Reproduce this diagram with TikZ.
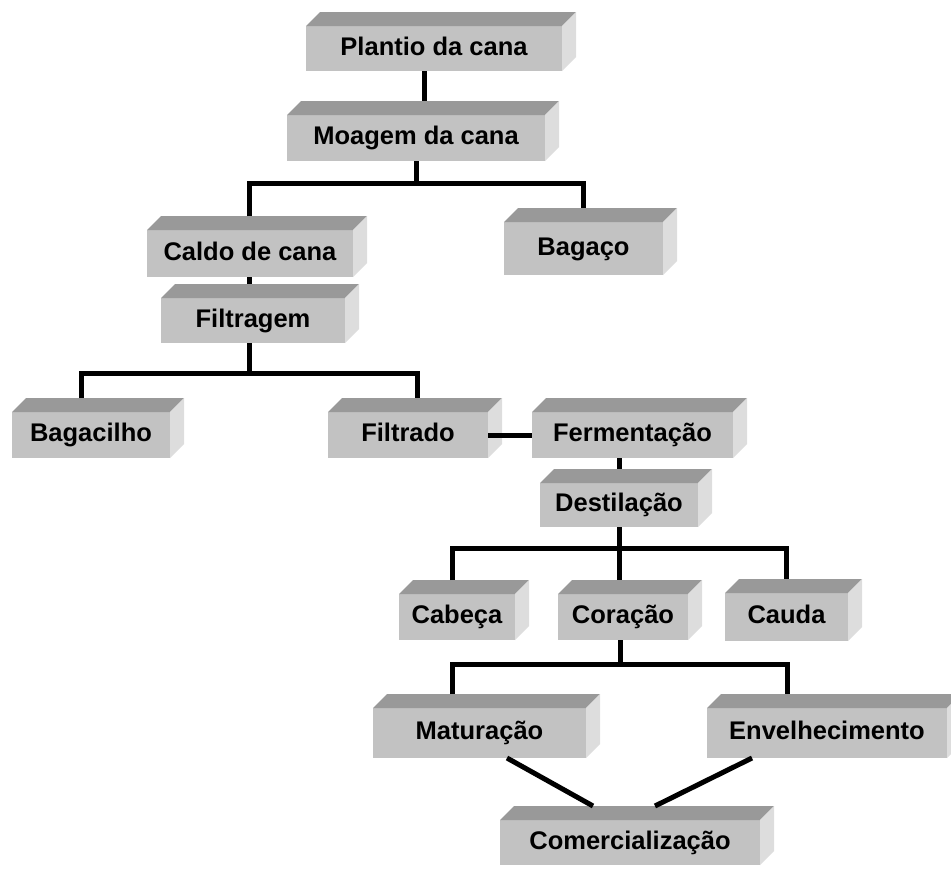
\documentclass[tikz,border=0pt]{standalone}
\usepackage{fontspec}
\setmainfont{Liberation Sans}
\usetikzlibrary{calc}
\definecolor{frontc}{HTML}{C2C2C2}
\definecolor{topc}{HTML}{999999}
\definecolor{sidec}{HTML}{DDDDDD}
\tikzset{
  blk/.style={fill=frontc, inner sep=0pt, outer sep=0pt, text height=18.3pt, text depth=5.3pt,
    font=\fontsize{25.5}{30}\selectfont\bfseries, text=black},
  conn/.style={line width=5pt, black},
}
\newcommand{\cubefaces}[1]{%
  \fill[topc] (#1.north west) -- ([shift={(14pt,14pt)}]#1.north west) -- ([shift={(14pt,14pt)}]#1.north east) -- (#1.north east) -- cycle;
  \fill[sidec] (#1.north east) -- ([shift={(14pt,14pt)}]#1.north east) -- ([shift={(14pt,14pt)}]#1.south east) -- (#1.south east) -- cycle;
  \coordinate (#1-top) at ([yshift=14pt]#1.north);
}
\newcommand{\stepbox}[6]{% name, cx, cy, w, h, text
  \node[blk, minimum width=#4pt, minimum height=#5pt] (#1) at (#2,#3) {#6};
  \cubefaces{#1}
}
\begin{document}
\begin{tikzpicture}[x=1pt,y=-1pt]
\useasboundingbox (0,0) rectangle (951,870);
\stepbox{plantio}{434}{48.5}{256}{45}{Plantio da cana}
\stepbox{moagem}{416}{138}{258}{46}{Moagem da cana}
\stepbox{caldo}{250}{253.5}{206}{47}{Caldo de cana}
\stepbox{bagaco}{583.5}{248.5}{159}{53}{Bagaço}
\stepbox{filtragem}{253}{320.5}{184}{45}{Filtragem}
\stepbox{bagacilho}{91}{435}{158}{46}{Bagacilho}
\stepbox{filtrado}{408}{435}{160}{46}{Filtrado}
\stepbox{ferm}{632.5}{435}{201}{46}{Fermentação}
\stepbox{destilacao}{619}{505}{158}{44}{Destilação}
\stepbox{cabeca}{457}{617}{116}{46}{Cabeça}
\stepbox{coracao}{623}{617}{130}{46}{Coração}
\stepbox{cauda}{786.5}{617}{123}{48}{Cauda}
\stepbox{maturacao}{479.5}{733}{213}{50}{Maturação}
\stepbox{envelh}{827}{733}{240}{50}{Envelhecimento}
\stepbox{comerc}{630}{842.5}{260}{45}{Comercialização}

% connectors
\draw[conn] ([xshift=-10pt]plantio.south) -- ([xshift=-10pt]plantio.south |- moagem-top);

\coordinate (b1) at ([yshift=-22pt]moagem.south);
\draw[conn] (moagem.south) -- (b1);
\draw[conn] ([xshift=-1pt]caldo-top) |- (b1) -| (bagaco-top);

\draw[conn] ([xshift=-1pt]caldo.south) -- ([xshift=-1pt]caldo.south |- filtragem-top);

\coordinate (b2) at ([xshift=-4pt,yshift=-30pt]filtragem.south);
\draw[conn] ([xshift=-4pt]filtragem.south) -- (b2);
\draw[conn] ([xshift=-10pt]bagacilho-top) |- (b2) -| ([xshift=9pt]filtrado-top);

\draw[conn] (filtrado.east) -- (ferm.west);

\draw[conn] (destilacao-top |- ferm.south) -- (destilacao-top);

\coordinate (b3) at ([yshift=-21pt]destilacao.south);
\draw[conn] (destilacao.south) -- (destilacao.south |- coracao-top);
\draw[conn] ([xshift=-5pt]cabeca-top) |- (b3) -| (cauda-top);

\coordinate (b4) at ([xshift=-3pt,yshift=-24pt]coracao.south);
\draw[conn] ([xshift=-3pt]coracao.south) -- (b4);
\draw[conn] ([xshift=-27.5pt]maturacao-top) |- (b4) -| ([xshift=-40pt]envelh-top);

\draw[conn] ([xshift=27.5pt]maturacao.south) -- ([xshift=-37pt]comerc-top);
\draw[conn] ([xshift=-75pt]envelh.south) -- ([xshift=25pt]comerc-top);
\end{tikzpicture}
\end{document}
